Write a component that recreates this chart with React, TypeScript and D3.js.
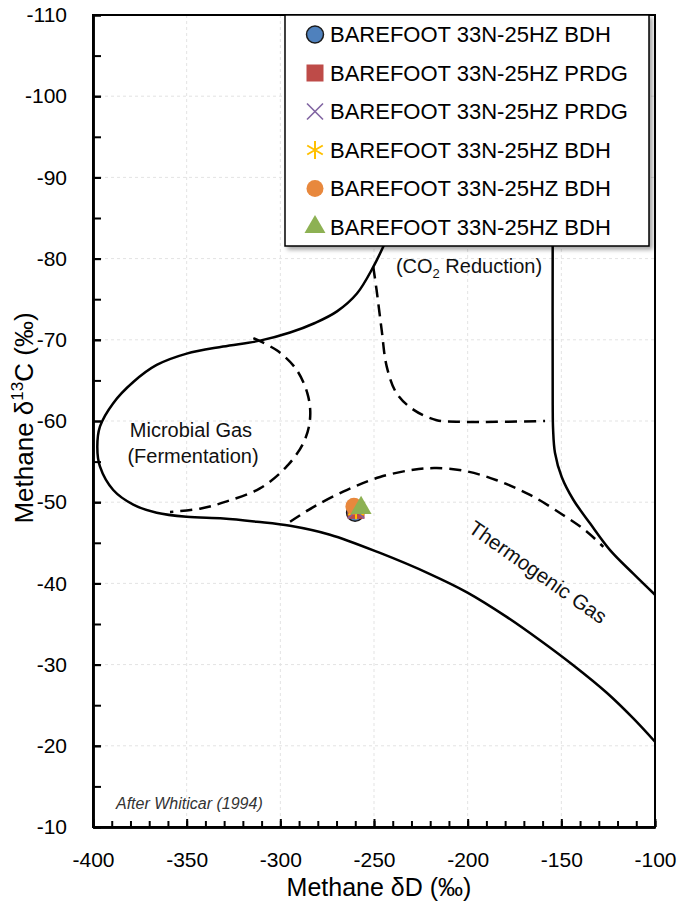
import React, { useEffect, useRef } from 'react'
import * as d3 from 'd3'

const W = 697
const H = 907
const margin = { left: 93, top: 15, right: 42, bottom: 80 }
const FONT = '"Liberation Sans", Arial, sans-serif'

// axis ticks
const xMajor = [-400, -350, -300, -250, -200, -150, -100]
const xMinor = d3.range(-400, -99, 10)
const yMajor = [-110, -100, -90, -80, -70, -60, -50, -40, -30, -20, -10]
const yMinor = d3.range(-110, -9, 5)

// outer microbial / thermogenic envelope (solid)
const envelopeD = [-242.5, -245.0, -250.4, -259.1, -269.75, -281.5, -294.8, -310.85, -330.6, -350, -366, -378.5, -389.2, -396.3, -397.7, -396.3, -389.2, -378.5, -366, -350, -330.4, -312.6, -294.8, -273.5, -246.8, -220.1, -200.35, -179.0, -161.4, -143.8, -125.6, -111.7, -100]
const envelopeC = [-82.8, -81.5, -78.97, -75.7, -73.5, -72.07, -70.9, -69.9, -69.17, -68.3, -66.9, -64.8, -62.2, -59.3, -56.8, -54.4, -51.5, -49.7, -48.7, -48.2, -48.0, -47.6, -47.1, -46.0, -43.75, -41.15, -38.9, -35.85, -33.0, -29.95, -26.5, -23.4, -20.5]

// right hand boundary (solid)
const rightD = [-154.6, -154.6, -154.4, -153.4, -149.8, -143.6, -134.7, -124, -111.6, -100]
const rightC = [-85, -62, -59, -56.1, -53.1, -50.3, -47.4, -44.1, -41.2, -38.6]

// fermentation field (dashed)
const fermD = [-314.4, -301.9, -291.3, -285.1, -284.2, -287.7, -296.6, -310.9, -328.6, -342.9, -358.9]
const fermC = [-70.2, -68.7, -66.3, -63.0, -60.1, -57.3, -54.4, -51.7, -50.1, -49.2, -48.8]

// CO2 reduction field (dashed)
const co2D = [-250.4, -248.6, -245.9, -243.2, -237.9, -229.0, -216.5, -202.3, -184.5, -158.7]
const co2C = [-79.0, -76.1, -71.2, -66.7, -63.4, -61.4, -60.1, -59.9, -59.9, -60.0]

// thermogenic field upper limit (dashed)
const thermoD = [-294.8, -282.4, -264.6, -246.8, -229.0, -216.5, -200.5, -184.5, -166.7, -148.9, -136.5, -127.6]
const thermoC = [-47.6, -49.4, -51.5, -53.1, -54.0, -54.2, -53.8, -52.7, -50.9, -48.4, -46.4, -44.5]

// samples
const seriesNames = [
  'BAREFOOT 33N-25HZ BDH',
  'BAREFOOT 33N-25HZ PRDG',
  'BAREFOOT 33N-25HZ PRDG',
  'BAREFOOT 33N-25HZ BDH',
  'BAREFOOT 33N-25HZ BDH',
  'BAREFOOT 33N-25HZ BDH',
]
const sampleD = [-260.1, -259.6, -259.6, -259.6, -260.7, -256.9]
const sampleC = [-48.7, -49.0, -49.0, -49.0, -49.5, -49.3]
const seriesColors = ['#4f81bd', '#be4b48', '#8064a2', '#ffc000', '#e8883d', '#8db153']

const toPts = (xs: number[], ys: number[]) => xs.map((v, i) => [v, ys[i]] as [number, number])

function drawMarker(sel: any, i: number, cx: number, cy: number) {
  const c = seriesColors[i]
  if (i === 0 || i === 4) {
    sel.append('circle').attr('cx', cx).attr('cy', cy).attr('r', 8.5)
      .attr('fill', c).attr('stroke', i === 0 ? '#1b1b1b' : 'none').attr('stroke-width', 1.5)
  } else if (i === 1) {
    sel.append('rect').attr('x', cx - 8.5).attr('y', cy - 8.5).attr('width', 17).attr('height', 17).attr('fill', c)
  } else if (i === 2) {
    sel.append('path').attr('transform', `translate(${cx},${cy})`)
      .attr('d', 'M-8,-8L8,8M-8,8L8,-8').attr('stroke', c).attr('stroke-width', 1.6).attr('fill', 'none')
  } else if (i === 3) {
    const r = 9, u = r * Math.sqrt(3) / 2, t = r / 2
    sel.append('path').attr('transform', `translate(${cx},${cy})`)
      .attr('d', `M0,${-r}L0,${r}M${-u},${-t}L${u},${t}M${-u},${t}L${u},${-t}`)
      .attr('stroke', c).attr('stroke-width', 2).attr('fill', 'none')
  } else {
    sel.append('path').attr('transform', `translate(${cx},${cy})`)
      .attr('d', d3.symbol().type(d3.symbolTriangle).size(190)())
      .attr('fill', c)
  }
}

function App() {
  const ref = useRef<SVGSVGElement>(null)

  useEffect(() => {
    const svg = d3.select(ref.current)
    svg.selectAll('*').remove()
    const width = W - margin.left - margin.right
    const height = H - margin.top - margin.bottom

    const x = d3.scaleLinear().domain([-400, -100]).range([0, width])
    const y = d3.scaleLinear().domain([-110, -10]).range([0, height])

    const defs = svg.append('defs')
    defs.append('filter').attr('id', 'shadow')
      .attr('x', '-10%').attr('y', '-10%').attr('width', '130%').attr('height', '130%')
      .append('feDropShadow').attr('dx', 3).attr('dy', 3).attr('stdDeviation', 2)
      .attr('flood-color', '#000').attr('flood-opacity', 0.35)

    const g = svg.append('g').attr('transform', `translate(${margin.left},${margin.top})`)

    // faint grid
    g.append('g').selectAll('line').data(xMajor.slice(1, -1)).join('line')
      .attr('x1', d => x(d)).attr('x2', d => x(d)).attr('y1', 0).attr('y2', height)
      .attr('stroke', '#e3e3e3').attr('stroke-dasharray', '3 3')
    g.append('g').selectAll('line').data(yMajor.slice(1, -1)).join('line')
      .attr('y1', d => y(d)).attr('y2', d => y(d)).attr('x1', 0).attr('x2', width)
      .attr('stroke', '#e3e3e3').attr('stroke-dasharray', '3 3')

    // frame
    g.append('rect').attr('width', width).attr('height', height)
      .attr('fill', 'none').attr('stroke', '#000').attr('stroke-width', 2)

    // field boundaries
    const line = d3.line<[number, number]>()
      .x(d => x(d[0])).y(d => y(d[1]))
      .curve(d3.curveCatmullRom.alpha(0.5))

    const solids = [toPts(envelopeD, envelopeC), toPts(rightD, rightC)]
    const dashed = [toPts(fermD, fermC), toPts(co2D, co2C), toPts(thermoD, thermoC)]

    g.append('g').selectAll('path').data(solids).join('path')
      .attr('d', d => line(d))
      .attr('fill', 'none').attr('stroke', '#000').attr('stroke-width', 2.5)
    g.append('g').selectAll('path').data(dashed).join('path')
      .attr('d', d => line(d))
      .attr('fill', 'none').attr('stroke', '#000').attr('stroke-width', 2.5)
      .attr('stroke-dasharray', '12 7')

    // field labels
    const labels = g.append('g').attr('font-family', FONT).attr('fill', '#111')
    labels.append('text').attr('x', 98).attr('y', 422).attr('font-size', 20)
      .attr('text-anchor', 'middle').text('Microbial Gas')
    labels.append('text').attr('x', 100).attr('y', 448).attr('font-size', 20)
      .attr('text-anchor', 'middle').text('(Fermentation)')
    const co2 = labels.append('text').attr('x', 376).attr('y', 258).attr('font-size', 20)
      .attr('text-anchor', 'middle')
    co2.append('tspan').text('(CO')
    co2.append('tspan').attr('font-size', 13).attr('dy', 5).text('2')
    co2.append('tspan').attr('dy', -5).text(' Reduction)')
    labels.append('text').attr('transform', `translate(441,563) rotate(35)`)
      .attr('font-size', 20.5).attr('text-anchor', 'middle').text('Thermogenic Gas')
    labels.append('text').attr('x', 23).attr('y', 794).attr('font-size', 16)
      .attr('font-style', 'italic').attr('fill', '#333').text('After Whiticar (1994)')

    // samples
    const pts = g.append('g')
    seriesNames.forEach((_, i) => drawMarker(pts, i, x(sampleD[i]), y(sampleC[i])))

    // axes
    const axisStyle = (sel: any) => {
      sel.select('.domain').attr('stroke', '#000').attr('stroke-width', 2.5)
      sel.selectAll('.tick line').attr('stroke', '#000').attr('stroke-width', 2)
      sel.selectAll('text').attr('font-family', FONT).attr('font-size', 21).attr('fill', '#000')
    }
    g.append('g').attr('transform', `translate(0,${height})`)
      .call(d3.axisBottom(x).tickValues(xMinor).tickSize(-6).tickSizeOuter(0).tickFormat(() => ''))
      .call(axisStyle)
    g.append('g').attr('transform', `translate(0,${height})`)
      .call(d3.axisBottom(x).tickValues(xMajor).tickSize(-8).tickSizeOuter(0).tickPadding(25).tickFormat(d3.format('d')))
      .call(axisStyle)
    g.append('g')
      .call(d3.axisLeft(y).tickValues(yMinor).tickSize(-8).tickSizeOuter(0).tickFormat(() => ''))
      .call(axisStyle)
    g.append('g')
      .call(d3.axisLeft(y).tickValues(yMajor).tickSize(-8).tickSizeOuter(0).tickPadding(26).tickFormat(d3.format('d')))
      .call(axisStyle)
    g.selectAll('.tick text').text(function () { return (this as any).textContent.replace('−', '-') })

    // axis titles
    svg.append('text').attr('x', 379).attr('y', 896).attr('text-anchor', 'middle')
      .attr('font-family', FONT).attr('font-size', 25).text('Methane δD (‰)')
    const yt = svg.append('text').attr('transform', 'translate(33,418) rotate(-90)')
      .attr('text-anchor', 'middle').attr('font-family', FONT).attr('font-size', 26)
    yt.append('tspan').text('Methane δ')
    yt.append('tspan').attr('font-size', 17).attr('dy', -10).text('13')
    yt.append('tspan').attr('dy', 10).text('C (‰)')

    // legend
    const lg = svg.append('g').attr('transform', 'translate(285,15)')
    lg.append('rect').attr('width', 364).attr('height', 231)
      .attr('fill', '#fff').attr('stroke', '#000').attr('stroke-width', 1.5)
      .attr('filter', 'url(#shadow)')
    seriesNames.forEach((name, i) => {
      const cy = 19.5 + i * 38.5
      drawMarker(lg, i, 30, cy)
      lg.append('text').attr('x', 45).attr('y', cy + 7.8)
        .attr('font-family', FONT).attr('font-size', 22).attr('fill', '#000').text(name)
    })
  }, [])

  return <svg ref={ref} width={W} height={H} style={{ position: 'absolute', left: 0, top: 0, background: '#fff' }} />
}

export default App
